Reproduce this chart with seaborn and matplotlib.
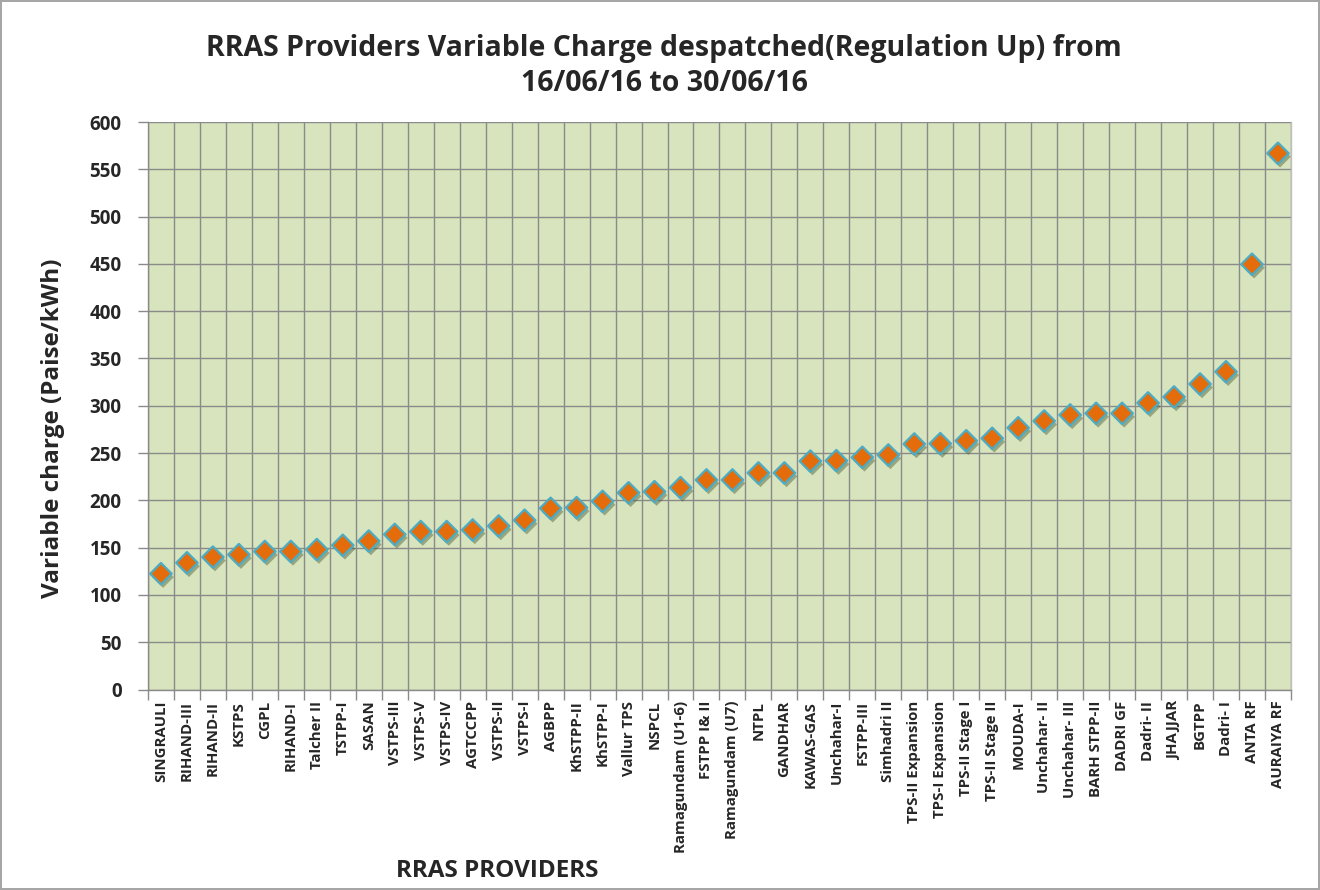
import matplotlib
matplotlib.use("Agg")
import matplotlib.pyplot as plt
import matplotlib.patheffects as pe
from matplotlib.ticker import FixedLocator
import seaborn as sns
import pandas as pd
import numpy as np

providers = [
    "SINGRAULI", "RIHAND-III", "RIHAND-II", "KSTPS", "CGPL", "RIHAND-I",
    "Talcher II", "TSTPP-I", "SASAN", "VSTPS-III", "VSTPS-V", "VSTPS-IV",
    "AGTCCPP", "VSTPS-II", "VSTPS-I", "AGBPP", "KhSTPP-II", "KhSTPP-I",
    "Vallur TPS", "NSPCL", "Ramagundam (U1-6)", "FSTPP I& II",
    "Ramagundam (U7)", "NTPL", "GANDHAR", "KAWAS-GAS", "Unchahar-I",
    "FSTPP-III", "Simhadri II", "TPS-II Expansion", "TPS-I Expansion",
    "TPS-II Stage I", "TPS-II Stage II", "MOUDA-I", "Unchahar- II",
    "Unchahar- III", "BARH STPP-II", "DADRI GF", "Dadri- II", "JHAJJAR",
    "BGTPP", "Dadri- I", "ANTA RF", "AURAIYA RF",
]
charge = [
    122.5, 134, 140, 142.6, 146, 146, 148, 152.5, 157, 164, 167, 167,
    168.7, 172.9, 179, 191.6, 192.3, 199, 208, 209.2, 213.5, 221.6,
    221.6, 229, 229, 241.5, 242, 245.5, 248, 259.6, 260, 263, 265.6,
    276.7, 283.9, 290.3, 292, 292, 303, 309.3, 323, 336, 449.6, 566.9,
]
y_ticks = list(range(0, 601, 50))

df = pd.DataFrame({"provider": providers, "charge": charge})

sns.set_theme(style="white")
plt.rcParams["font.family"] = ["Open Sans", "DejaVu Sans"]

fig = plt.figure(figsize=(13.2, 8.9), dpi=100)
fig.patch.set_edgecolor("#A6A6A6")
fig.patch.set_linewidth(1.5)
ax = fig.add_axes([0.1121, 0.2252, 0.8659, 0.6377])
ax.set_facecolor("#D7E4BD")

sns.scatterplot(
    data=df, x="provider", y="charge", ax=ax, marker="D", s=120,
    color="#E46C0A", edgecolor="#4BACC6", linewidth=1.6, zorder=3,
)
# soft drop shadow like the Excel marker effect
ax.collections[0].set_path_effects([
    pe.SimplePatchShadow(offset=(1.5, -2.5), shadow_rgbFace="#4d5a30", alpha=0.45),
    pe.Normal(),
])

n = len(providers)
ax.set_xlim(-0.5, n - 0.5)
ax.set_ylim(0, 600)
ax.yaxis.set_major_locator(FixedLocator(y_ticks))
ax.xaxis.set_minor_locator(FixedLocator(np.arange(-0.5, n, 1.0)))

ax.grid(True, axis="y", which="major", color="#8A8A8A", linewidth=1.0)
ax.grid(True, axis="x", which="minor", color="#8A8A8A", linewidth=1.0)
ax.grid(False, axis="x", which="major")
ax.set_axisbelow(True)

ax.tick_params(axis="x", which="major", length=0, pad=8, labelsize=10.8,
               labelrotation=90)
ax.tick_params(axis="x", which="minor", length=7, width=1, color="#8A8A8A",
               bottom=True, direction="out")
ax.tick_params(axis="y", which="major", length=7, width=1, color="#8A8A8A",
               left=True, direction="out", pad=12, labelsize=13.5)
for lab in ax.get_xticklabels() + ax.get_yticklabels():
    lab.set_fontweight("bold")

ax.spines["top"].set_visible(False)
ax.spines["right"].set_color("#BFBFBF")
ax.spines["left"].set_color("#8A8A8A")
ax.spines["bottom"].set_color("#8A8A8A")
for s in ax.spines.values():
    s.set_linewidth(1.0)

ax.set_xlabel("")
ax.set_ylabel("Variable charge (Paise/kWh)", fontsize=17.5, fontweight="bold")
ax.yaxis.set_label_coords(-0.073, 0.46)
fig.text(0.377, 0.008, "RRAS PROVIDERS", ha="center", va="bottom",
         fontsize=17.5, fontweight="bold")
fig.text(0.503, 0.962,
         "RRAS Providers Variable Charge despatched(Regulation Up) from\n16/06/16 to 30/06/16",
         ha="center", va="top", fontsize=20.5, fontweight="bold", linespacing=1.3)

fig.savefig("out.png", dpi=100)
